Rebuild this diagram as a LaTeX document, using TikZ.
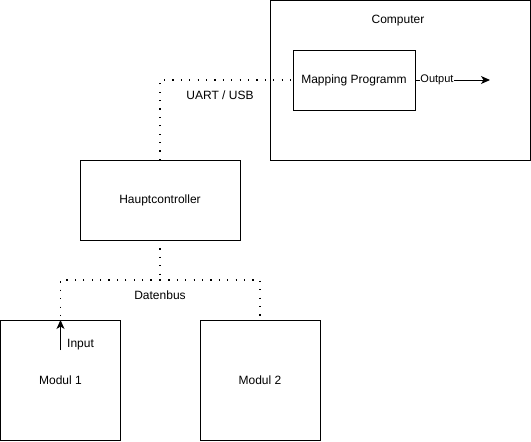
\documentclass[tikz,border=0pt]{standalone}
\usepackage{fontspec}
\setmainfont{Liberation Sans}
\usetikzlibrary{arrows.meta}
\begin{document}
\begin{tikzpicture}[x=1pt,y=-1pt,
  box/.style={draw,line width=1pt,inner sep=0pt,outer sep=0pt,font=\fontsize{12}{14}\selectfont},
  bus/.style={line width=1.4pt,dash pattern=on 1.2pt off 7.2pt},
  lbl/.style={font=\fontsize{12}{14}\selectfont,inner sep=1pt},
  arr/.style={line width=1pt,-{Stealth[length=9pt,width=8pt,inset=2.5pt]}}]
\useasboundingbox (0,0) rectangle (531,442);
\node[box,minimum width=260pt,minimum height=160pt] (comp) at (400,80) {};
\node[lbl] (complbl) at (398,20.5) {Computer};
\node[box,minimum width=122pt,minimum height=60pt] (map) at (354,80) {Mapping Programm};
\coordinate (out) at (490,80);
\draw[arr] (map.east) -- (out);
\node[lbl,fill=white,font=\fontsize{11}{13}\selectfont,inner sep=0.5pt] (outlbl) at (437,80) {Output};
\node[box,minimum width=160pt,minimum height=80pt] (haupt) at (160,200) {Hauptcontroller};
\node[box,minimum width=120pt,minimum height=120pt] (m1) at (60.5,380) {Modul 1};
\node[box,minimum width=120pt,minimum height=120pt] (m2) at (260,380) {Modul 2};
\draw[bus] (haupt.north) |- (map.west);
\node[lbl] (uart) at (220,95.5) {UART / USB};
\coordinate (bus) at (160,280);
\draw[bus] (haupt.south) -- (bus);
\draw[bus] (bus) -| (m1.north);
\draw[bus] (bus) -| (m2.north);
\node[lbl] (dblbl) at (160,295.5) {Datenbus};
\coordinate (inp) at (60.5,350);
\draw[arr] (inp) -- (m1.north);
\node[lbl,anchor=west] (inlbl) at (66,345) {Input};
\end{tikzpicture}
\end{document}
